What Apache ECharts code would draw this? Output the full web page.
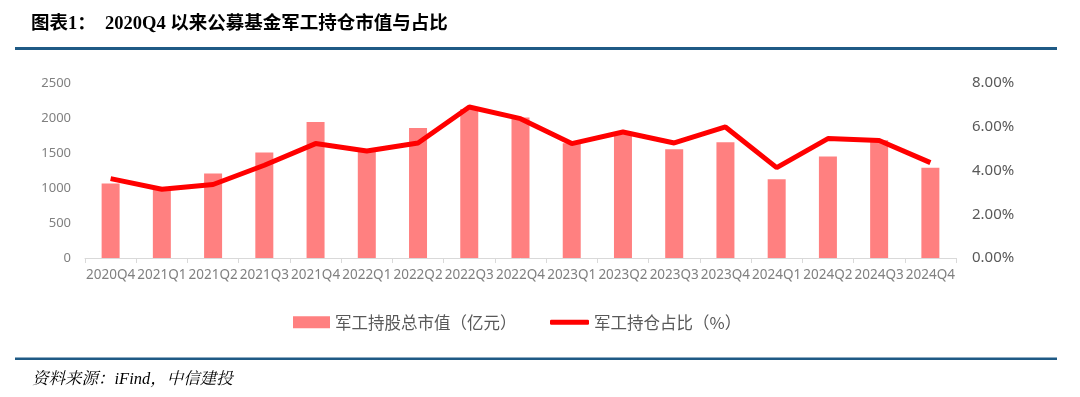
<!DOCTYPE html>
<html><head><meta charset="utf-8">
<script src="https://cdn.jsdelivr.net/npm/echarts@6/dist/echarts.min.js"></script>
<style>html,body{margin:0;padding:0;background:#fff}#c{width:1080px;height:397px}</style>
</head><body><div id="c"></div>
<script>
const categories = ['2020Q4','2021Q1','2021Q2','2021Q3','2021Q4','2022Q1','2022Q2','2022Q3','2022Q4','2023Q1','2023Q2','2023Q3','2023Q4','2024Q1','2024Q2','2024Q3','2024Q4'];
const marketValue = [1063, 985, 1206, 1506, 1943, 1535, 1857, 2130, 2006, 1640, 1767, 1553, 1653, 1124, 1449, 1681, 1291];
const holdingRatio = [3.63, 3.14, 3.36, 4.24, 5.23, 4.89, 5.26, 6.90, 6.37, 5.23, 5.76, 5.26, 5.99, 4.13, 5.46, 5.37, 4.36];
const barName = '军工持股总市值（亿元）';
const lineName = '军工持仓占比（%）';
const titleText = '图表1：  2020Q4 以来公募基金军工持仓市值与占比';
const sourceText = '资料来源：iFind，中信建投';

const chart = echarts.init(document.getElementById('c'));
chart.setOption({
  animation: false,
  backgroundColor: '#fff',
  title: [
    {text: titleText, left: 26, top: 10, textStyle: {fontFamily: '"Liberation Serif","Noto Sans CJK SC"', fontWeight: 'bold', fontSize: 18.5, color: '#000'}},
    {text: sourceText, left: 27, top: 366, textStyle: {fontFamily: '"Liberation Serif","Noto Serif CJK SC","Noto Sans CJK SC"', fontStyle: 'italic', fontWeight: 'normal', fontSize: 16.5, color: '#000'}}
  ],
  graphic: [
    {type: 'rect', shape: {x: 15, y: 47, width: 1042, height: 3}, style: {fill: '#1f5a85'}},
    {type: 'rect', shape: {x: 15, y: 357.5, width: 1042, height: 2.5}, style: {fill: '#1f5a85'}}
  ],
  legend: [
    {data: [barName], left: 288, top: 309, icon: 'rect', itemWidth: 37, itemHeight: 12, itemGap: 5,
     textStyle: {fontFamily: '"Noto Sans CJK SC"', fontSize: 16.5, color: '#595959'}},
    {data: [lineName], left: 545, top: 309, icon: 'roundRect', itemWidth: 39, itemHeight: 5, itemGap: 5,
     textStyle: {fontFamily: '"Noto Sans CJK SC"', fontSize: 16.5, color: '#595959'}}
  ],
  grid: {left: 85, right: 124, top: 83, bottom: 139, containLabel: false},
  xAxis: {
    type: 'category', data: categories, boundaryGap: true,
    axisLine: {lineStyle: {color: '#d9d9d9', width: 1}},
    axisTick: {show: true, length: 5, lineStyle: {color: '#d9d9d9'}},
    axisLabel: {color: '#808080', fontSize: 13.5, fontFamily: '"Noto Sans"', margin: 10, interval: 0}
  },
  yAxis: [
    {type: 'value', min: 0, max: 2500, interval: 500,
     splitLine: {show: false}, axisLine: {show: false}, axisTick: {show: false},
     axisLabel: {color: '#808080', fontSize: 13, fontFamily: '"Noto Sans"', margin: 14, formatter: v => String(v)}},
    {type: 'value', min: 0, max: 8, interval: 2, position: 'right',
     splitLine: {show: false}, axisLine: {show: false}, axisTick: {show: false},
     axisLabel: {color: '#595959', fontSize: 15, fontFamily: '"Noto Sans"', margin: 16, formatter: v => v.toFixed(2) + '%'}}
  ],
  series: [
    {name: barName, type: 'bar', data: marketValue, barWidth: 18, itemStyle: {color: '#ff8080'}, yAxisIndex: 0},
    {name: lineName, type: 'line', data: holdingRatio, yAxisIndex: 1, symbol: 'none',
     lineStyle: {color: '#ff0000', width: 5}, itemStyle: {color: '#ff0000'}}
  ]
});
</script></body></html>
